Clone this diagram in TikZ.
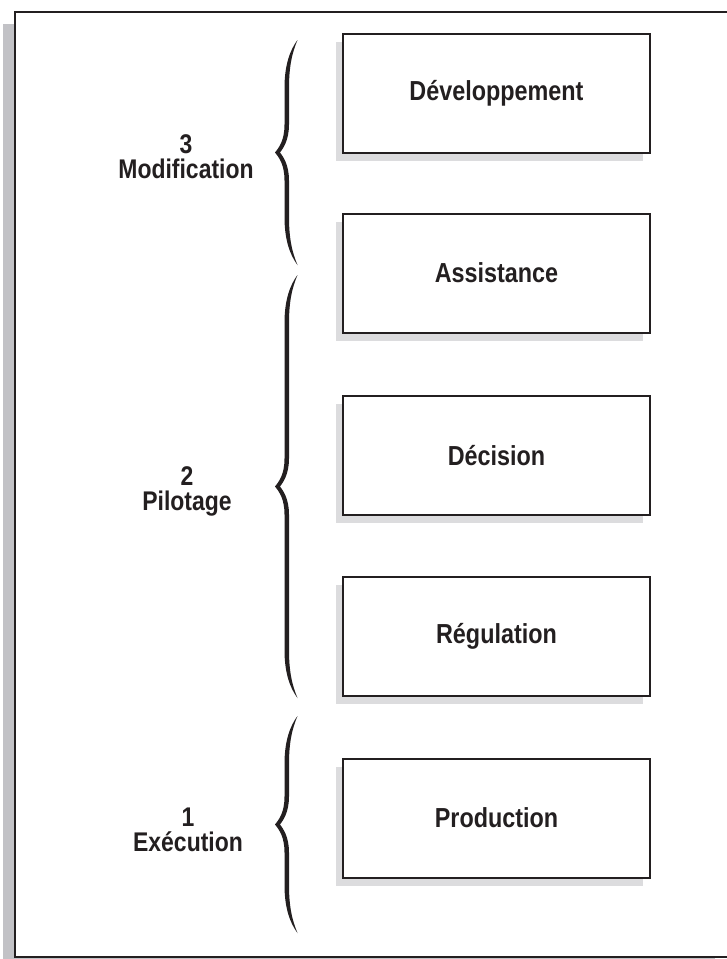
\documentclass[tikz,border=0pt]{standalone}
\usepackage{fontspec}
\setmainfont{Liberation Sans}[FakeStretch=0.85]
\usetikzlibrary{shadows}
\definecolor{ink}{HTML}{231F20}
\definecolor{barGray}{HTML}{C2C2C6}
\definecolor{shadowGray}{HTML}{DCDCDE}
\tikzset{
  stage/.style={draw=ink, line width=2pt, fill=white, minimum width=307pt,
    minimum height=119pt, inner sep=0pt, text=ink,
    font=\fontsize{27.5}{30}\selectfont\bfseries,
    drop shadow={shadow xshift=-7pt, shadow yshift=-8pt, fill=shadowGray, opacity=1}},
  level/.style={align=center, text=ink, inner sep=0pt,
    font=\fontsize{27}{25}\selectfont\bfseries},
  bracefill/.style={fill=ink},
  frameline/.style={draw=ink, line width=2pt, fill=white}
}
\newcommand\levelbrace[2]{%
  \pgfmathsetmacro\bya{#1}\pgfmathsetmacro\byb{#2}\pgfmathsetmacro\bym{(#1+#2)/2}%
  \fill[bracefill] (297.5,\bya)
    .. controls (290,{\bya+10}) and (284.5,{\bya+25}) .. (284.5,{\bya+48})
    -- (284.5,{\bym-28})
    .. controls (284.5,{\bym-12}) and (279,{\bym-5}) .. (275,\bym)
    .. controls (279,{\bym+5}) and (284.5,{\bym+12}) .. (284.5,{\bym+28})
    -- (284.5,{\byb-48})
    .. controls (284.5,{\byb-25}) and (290,{\byb-10}) .. (297.5,\byb)
    .. controls (292.5,{\byb-12}) and (289,{\byb-25}) .. (289,{\byb-48})
    -- (289,{\bym+28})
    .. controls (289,{\bym+12}) and (283,{\bym+4}) .. (280,\bym)
    .. controls (283,{\bym-4}) and (289,{\bym-12}) .. (289,{\bym-28})
    -- (289,{\bya+48})
    .. controls (289,{\bya+25}) and (292.5,{\bya+12}) .. (297.5,\bya)
    -- cycle;%
}
\begin{document}
\begin{tikzpicture}[x=1pt,y=-1pt]
  \clip (0,0) rectangle (727,959);
  \fill[white] (0,0) rectangle (727,959);
  % frame shadow and frame
  \fill[barGray] (3,24) rectangle (715,972);
  \draw[frameline] (15,12) rectangle (745,957);
  % boxes
  \node[stage] (dev)  at (496.5,93.5) {Développement};
  \node[stage] (ass)  at (496.5,273)  {Assistance};
  \node[stage] (dec)  at (496.5,455.5) {Décision};
  \node[stage] (reg)  at (496.5,636)  {Régulation};
  \node[stage] (prod) at (496.5,818)  {Production};
  % braces
  \levelbrace{40}{265}
  \levelbrace{275}{698}
  \levelbrace{716}{933}
  % labels
  \node[level] (l3) at (186,157) {3\\Modification};
  \node[level] (l2) at (187,491) {2\\Pilotage};
  \node[level] (l1) at (188,830) {1\\Exécution};
\end{tikzpicture}
\end{document}
